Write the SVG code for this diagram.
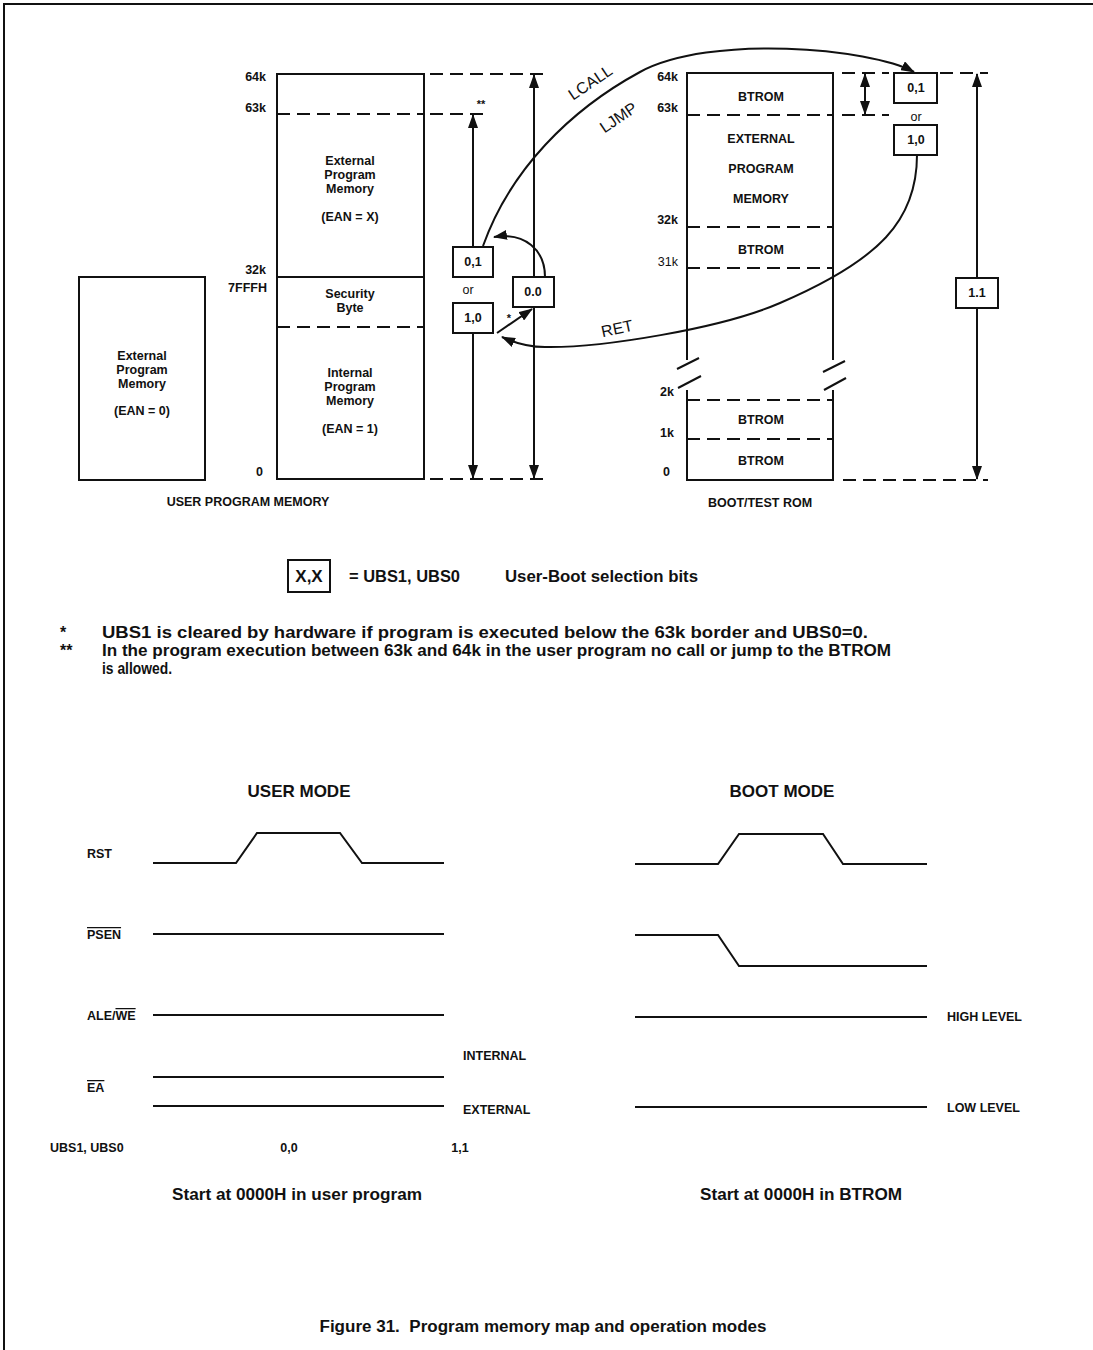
<svg xmlns="http://www.w3.org/2000/svg" width="1093" height="1350" viewBox="0 0 1093 1350">
<style>
.t{font-family:"Liberation Sans",Arial,sans-serif;font-weight:bold;font-size:12.5px;fill:#111}
.r{font-weight:normal}
.c{text-anchor:middle}
.e{text-anchor:end}
.ln{stroke:#111;stroke-width:2;fill:none}
.dash{stroke-dasharray:13 7}
.box{fill:#fff;stroke:#111;stroke-width:2}
.lbl{font-family:"Liberation Sans",Arial,sans-serif;font-size:16px;fill:#111}
</style>
<defs>
<marker id="ah" markerUnits="userSpaceOnUse" markerWidth="14" markerHeight="10" refX="13" refY="5" orient="auto-start-reverse">
<path d="M0,0 L14,5 L0,10 z" fill="#111"/>
</marker>
</defs>
<rect x="0" y="0" width="1093" height="1350" fill="#fff"/>
<!-- page border -->
<path class="ln" d="M4,1350 V4 H1093"/>

<!-- user program memory -->
<g id="user-memory">
<rect x="277" y="74" width="147" height="405" class="box" fill="none"/>
<line class="ln dash" x1="277" y1="114" x2="424" y2="114"/>
<line class="ln" x1="277" y1="277" x2="424" y2="277"/>
<line class="ln dash" x1="277" y1="327" x2="424" y2="327"/>
<text class="t c" x="350" y="165">External</text>
<text class="t c" x="350" y="179">Program</text>
<text class="t c" x="350" y="193">Memory</text>
<text class="t c" x="350" y="221">(EAN = X)</text>
<text class="t c" x="350" y="298">Security</text>
<text class="t c" x="350" y="312">Byte</text>
<text class="t c" x="350" y="377">Internal</text>
<text class="t c" x="350" y="391">Program</text>
<text class="t c" x="350" y="405">Memory</text>
<text class="t c" x="350" y="433">(EAN = 1)</text>
<text class="t e" x="266" y="81">64k</text>
<text class="t e" x="266" y="112">63k</text>
<text class="t e" x="266" y="274">32k</text>
<text class="t e" x="267" y="292">7FFFH</text>
<text class="t e" x="263" y="476">0</text>
<text class="t c" x="248" y="506">USER PROGRAM MEMORY</text>
</g>

<g id="external-memory">
<rect x="79" y="277" width="126" height="203" class="box"/>
<text class="t c" x="142" y="360">External</text>
<text class="t c" x="142" y="374">Program</text>
<text class="t c" x="142" y="388">Memory</text>
<text class="t c" x="142" y="415">(EAN = 0)</text>
</g>

<!-- boot/test rom -->
<g id="boot-rom">
<path class="ln" d="M687,360 V73 H833 V360"/>
<path class="ln" d="M687,390 V480 H833 V390"/>
<line class="ln" x1="677" y1="369" x2="699" y2="358"/>
<line class="ln" x1="678" y1="388" x2="701" y2="376"/>
<line class="ln" x1="823" y1="372" x2="845" y2="361"/>
<line class="ln" x1="824" y1="390" x2="846" y2="378"/>
<line class="ln dash" x1="687" y1="115" x2="833" y2="115"/>
<line class="ln dash" x1="687" y1="227" x2="833" y2="227"/>
<line class="ln dash" x1="687" y1="268" x2="833" y2="268"/>
<line class="ln dash" x1="687" y1="400" x2="833" y2="400"/>
<line class="ln dash" x1="687" y1="439" x2="833" y2="439"/>
<text class="t c" x="761" y="101">BTROM</text>
<text class="t c" x="761" y="143">EXTERNAL</text>
<text class="t c" x="761" y="173">PROGRAM</text>
<text class="t c" x="761" y="203">MEMORY</text>
<text class="t c" x="761" y="254">BTROM</text>
<text class="t c" x="761" y="424">BTROM</text>
<text class="t c" x="761" y="465">BTROM</text>
<text class="t e" x="678" y="81">64k</text>
<text class="t e" x="678" y="112">63k</text>
<text class="t e" x="678" y="224">32k</text>
<text class="t e r" x="678" y="266">31k</text>
<text class="t e" x="674" y="396">2k</text>
<text class="t e" x="674" y="437">1k</text>
<text class="t e" x="670" y="476">0</text>
<text class="t c" x="760" y="507">BOOT/TEST ROM</text>
</g>

<!-- selection boxes -->
<g id="box-u01"><rect x="453" y="247" width="40" height="30" class="box"/><text class="t c" x="473" y="266">0,1</text></g>
<g id="or-u"><text class="t c r" x="468" y="294">or</text></g>
<g id="box-u10"><rect x="453" y="303" width="40" height="30" class="box"/><text class="t c" x="473" y="322">1,0</text></g>
<g id="box-u00"><rect x="513" y="277" width="41" height="30" class="box"/><text class="t c" x="533" y="296">0.0</text></g>
<g id="box-b01"><rect x="894" y="73" width="43" height="30" class="box"/><text class="t c" x="916" y="92">0,1</text></g>
<g id="or-b"><text class="t c r" x="916" y="121">or</text></g>
<g id="box-b10"><rect x="894" y="125" width="43" height="30" class="box"/><text class="t c" x="916" y="144">1,0</text></g>
<g id="box-b11"><rect x="956" y="278" width="42" height="30" class="box"/><text class="t c" x="977" y="297">1.1</text></g>

<!-- connectors -->
<g id="connectors">
<line class="ln dash" x1="430" y1="74" x2="545" y2="74"/>
<line class="ln dash" x1="430" y1="114" x2="485" y2="114"/>
<line class="ln dash" x1="430" y1="479" x2="545" y2="479"/>
<line class="ln dash" x1="842" y1="73" x2="889" y2="73"/>
<line class="ln dash" x1="842" y1="115" x2="889" y2="115"/>
<line class="ln dash" x1="940" y1="73" x2="988" y2="73"/>
<line class="ln dash" x1="843" y1="480" x2="988" y2="480"/>
<line class="ln" x1="473" y1="247" x2="473" y2="115" marker-end="url(#ah)"/>
<line class="ln" x1="473" y1="333" x2="473" y2="478" marker-end="url(#ah)"/>
<line class="ln" x1="534" y1="277" x2="534" y2="75" marker-end="url(#ah)"/>
<line class="ln" x1="534" y1="307" x2="534" y2="478" marker-end="url(#ah)"/>
<line class="ln" x1="865" y1="74" x2="865" y2="114" marker-start="url(#ah)" marker-end="url(#ah)"/>
<line class="ln" x1="977" y1="278" x2="977" y2="74" marker-end="url(#ah)"/>
<line class="ln" x1="977" y1="308" x2="977" y2="479" marker-end="url(#ah)"/>
<path class="ln" d="M483,246 C510,170 570,110 640,72 C710,34 870,48 914,72" marker-end="url(#ah)"/>
<path class="ln" d="M917,155 C917,220 880,260 780,303 C720,329 600,348 545,347 C530,347 515,343 502,337" marker-end="url(#ah)"/>
<path class="ln" d="M545,277 C545,250 525,232 494,237" marker-end="url(#ah)"/>
<line class="ln" x1="497" y1="333" x2="532" y2="309" marker-end="url(#ah)"/>
<text class="lbl" transform="translate(590,82) rotate(-34)" text-anchor="middle" dy="6">LCALL</text>
<text class="lbl" transform="translate(618,117) rotate(-34)" text-anchor="middle" dy="6">LJMP</text>
<text class="lbl" transform="translate(617,328) rotate(-12)" text-anchor="middle" dy="6">RET</text>
<text class="t c" x="481" y="108" style="font-size:11px">**</text>
<text class="t c" x="509" y="322" style="font-size:11px">*</text>
</g>

<!-- legend -->
<g id="legend">
<rect x="288" y="560" width="42" height="32" class="box"/>
<text class="t c" x="309" y="582" style="font-size:17px">X,X</text>
<text class="t" x="349" y="582" style="font-size:16px" textLength="111" lengthAdjust="spacingAndGlyphs">= UBS1, UBS0</text>
<text class="t" x="505" y="582" style="font-size:16px" textLength="193" lengthAdjust="spacingAndGlyphs">User-Boot selection bits</text>
</g>

<g id="notes">
<text class="t" x="60" y="638" style="font-size:16px">*</text>
<text class="t" x="102" y="638" style="font-size:16px" textLength="766" lengthAdjust="spacingAndGlyphs">UBS1 is cleared by hardware if program is executed below the 63k border and UBS0=0.</text>
<text class="t" x="60" y="656" style="font-size:16px">**</text>
<text class="t" x="102" y="656" style="font-size:16px" textLength="789" lengthAdjust="spacingAndGlyphs">In the program execution between 63k and 64k in the user program no call or jump to the BTROM</text>
<text class="t" x="102" y="674" style="font-size:16px" textLength="70" lengthAdjust="spacingAndGlyphs">is allowed.</text>
</g>

<!-- timing user mode -->
<g id="user-mode">
<text class="t c" x="299" y="797" style="font-size:17px">USER MODE</text>
<text class="t" x="87" y="858">RST</text>
<text class="t" x="87" y="939" style="text-decoration:overline">PSEN</text>
<text class="t" x="87" y="1020">ALE/<tspan style="text-decoration:overline">WE</tspan></text>
<text class="t" x="87" y="1092" style="text-decoration:overline">EA</text>
<text class="t" x="50" y="1152">UBS1, UBS0</text>
<text class="t c" x="289" y="1152">0,0</text>
<text class="t c" x="460" y="1152">1,1</text>
<text class="t" x="463" y="1060">INTERNAL</text>
<text class="t" x="463" y="1114">EXTERNAL</text>
<path class="ln" d="M153,863 H236 L257,833 H340 L362,863 H444"/>
<line class="ln" x1="153" y1="934" x2="444" y2="934"/>
<line class="ln" x1="153" y1="1015" x2="444" y2="1015"/>
<line class="ln" x1="153" y1="1077" x2="444" y2="1077"/>
<line class="ln" x1="153" y1="1106" x2="444" y2="1106"/>
<text class="t c" x="297" y="1200" style="font-size:16px" textLength="250" lengthAdjust="spacingAndGlyphs">Start at 0000H in user program</text>
</g>

<!-- timing boot mode -->
<g id="boot-mode">
<text class="t c" x="782" y="797" style="font-size:17px">BOOT MODE</text>
<path class="ln" d="M635,864 H718 L739,834 H823 L843,864 H927"/>
<path class="ln" d="M635,935 H718 L739,966 H927"/>
<line class="ln" x1="635" y1="1017" x2="927" y2="1017"/>
<line class="ln" x1="635" y1="1107" x2="927" y2="1107"/>
<text class="t" x="947" y="1021">HIGH LEVEL</text>
<text class="t" x="947" y="1112">LOW LEVEL</text>
<text class="t c" x="801" y="1200" style="font-size:16px" textLength="202" lengthAdjust="spacingAndGlyphs">Start at 0000H in BTROM</text>
</g>

<g id="caption">
<text class="t c" x="543" y="1332" style="font-size:16px;white-space:pre" textLength="447" lengthAdjust="spacingAndGlyphs">Figure 31.  Program memory map and operation modes</text>
</g>
</svg>
